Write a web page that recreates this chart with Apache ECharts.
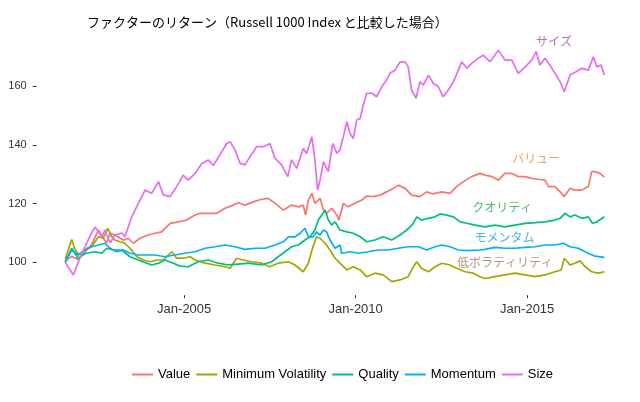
<!DOCTYPE html>
<html><head><meta charset="utf-8">
<script src="https://cdn.jsdelivr.net/npm/echarts@6/dist/echarts.min.js"></script>
<style>html,body{margin:0;padding:0;background:#fff}#c{width:640px;height:402px}</style>
</head><body><div id="c"></div>
<script>
const titleText = 'ファクターのリターン（Russell 1000 Index と比較した場合）';
const seriesNames = ['Value', 'Minimum Volatility', 'Quality', 'Momentum', 'Size'];
const xTickValues = [2005, 2010, 2015];
const yTickValues = [100, 120, 140, 160];

const valueData = [[2001.53,100.5],[2001.72,102],[2001.91,101],[2002.11,103.5],[2002.30,106],[2002.50,111],[2002.60,109],[2002.74,106.5],[2002.84,110],[2003.03,109],[2003.23,107.5],[2003.37,108.2],[2003.52,106.5],[2003.71,108.2],[2003.95,109.3],[2004.15,109.9],[2004.34,110.4],[2004.59,113.3],[2004.83,113.8],[2005.07,114.4],[2005.32,116.1],[2005.46,116.7],[2005.70,116.7],[2005.95,116.7],[2006.19,118.4],[2006.43,119.5],[2006.58,120.3],[2006.77,119.5],[2007.01,120.6],[2007.26,121.5],[2007.45,121.8],[2007.65,120.1],[2007.89,117.8],[2008.13,119.5],[2008.33,118.9],[2008.47,119.5],[2008.54,116.1],[2008.62,121.2],[2008.72,123.5],[2008.81,120.1],[2008.96,121.8],[2009.06,117.8],[2009.15,116.7],[2009.30,118.4],[2009.45,116.1],[2009.51,114.4],[2009.64,120.1],[2009.78,118.9],[2009.98,120.1],[2010.18,121.2],[2010.32,122.6],[2010.51,122.4],[2010.71,122.9],[2010.90,124],[2011.10,125.2],[2011.24,126.3],[2011.44,125.2],[2011.63,122.9],[2011.87,122.4],[2012.07,124],[2012.26,123.3],[2012.51,124],[2012.75,123.5],[2012.94,125.8],[2013.14,127.5],[2013.38,129.2],[2013.62,130.3],[2013.77,129.7],[2013.97,129.2],[2014.16,128],[2014.35,130.3],[2014.55,130.3],[2014.74,129.2],[2014.94,129.2],[2015.13,128.6],[2015.32,128.3],[2015.52,128],[2015.62,125.8],[2015.81,125.8],[2015.96,124],[2016.08,122.4],[2016.25,125.2],[2016.39,124.6],[2016.59,124.6],[2016.78,125.8],[2016.88,130.9],[2016.98,130.9],[2017.12,130.3],[2017.25,129]];

const minVolData = [[2001.53,101],[2001.72,107.8],[2001.82,104.2],[2001.96,102.5],[2002.16,104.8],[2002.30,105.3],[2002.50,108.7],[2002.64,108.2],[2002.77,111.6],[2002.89,108.7],[2002.98,107.6],[2003.13,107],[2003.27,106.5],[2003.42,104.8],[2003.62,101.9],[2003.81,100.8],[2004.00,100.2],[2004.20,100.8],[2004.39,100.8],[2004.64,103.6],[2004.78,101.4],[2004.97,101.4],[2005.17,101.9],[2005.32,100.8],[2005.61,99.7],[2005.90,99.1],[2006.19,98.5],[2006.34,98],[2006.53,101.4],[2006.72,100.8],[2006.97,100.2],[2007.26,99.7],[2007.50,98.5],[2007.74,99.7],[2008.04,100.2],[2008.23,99.1],[2008.47,96.8],[2008.62,99.7],[2008.74,104.8],[2008.86,108.7],[2008.96,108.2],[2009.11,106.5],[2009.25,104.2],[2009.40,101.4],[2009.54,99.7],[2009.74,97.4],[2009.93,98.5],[2010.13,97.4],[2010.32,95.1],[2010.56,96.3],[2010.80,95.7],[2011.05,93.4],[2011.29,94],[2011.53,95.1],[2011.68,98.5],[2011.78,100.2],[2011.92,98],[2012.12,96.8],[2012.31,98.5],[2012.51,99.7],[2012.75,99.1],[2012.94,98],[2013.19,96.8],[2013.43,96.3],[2013.62,95.1],[2013.77,94.5],[2014.06,95.1],[2014.35,95.7],[2014.64,96.3],[2014.94,95.7],[2015.23,95.1],[2015.52,95.7],[2015.81,96.8],[2015.99,97.4],[2016.08,101.4],[2016.25,99.1],[2016.39,99.7],[2016.54,100.5],[2016.69,98.5],[2016.88,96.8],[2017.07,96.3],[2017.25,96.8]];

const qualityData = [[2001.53,100],[2001.72,104.8],[2001.91,101.4],[2002.11,103],[2002.40,103.6],[2002.60,103.1],[2002.74,104.8],[2002.93,104.2],[2003.18,104.2],[2003.42,101.9],[2003.66,100.8],[2003.91,99.7],[2004.05,99.1],[2004.25,99.7],[2004.44,100.8],[2004.68,99.7],[2004.88,98.7],[2005.12,98.5],[2005.41,100.2],[2005.70,100.8],[2005.99,99.7],[2006.29,99.1],[2006.58,99.4],[2006.87,99.7],[2007.26,99.1],[2007.55,100.2],[2007.74,101.9],[2007.94,103.6],[2008.13,105.3],[2008.33,105.9],[2008.52,107.6],[2008.67,108.7],[2008.81,111],[2008.91,114.4],[2009.01,116.1],[2009.11,117.8],[2009.20,114.4],[2009.30,112.7],[2009.40,113.8],[2009.54,111],[2009.74,110.4],[2009.93,109.9],[2010.13,108.7],[2010.32,107],[2010.56,107.6],[2010.80,108.7],[2011.05,107.6],[2011.29,109.3],[2011.49,111],[2011.68,113.3],[2011.78,115.5],[2011.92,114.4],[2012.12,115],[2012.31,115.5],[2012.46,116.5],[2012.65,116.1],[2012.85,115.5],[2013.04,113.8],[2013.24,113.3],[2013.48,112.7],[2013.77,112.1],[2014.06,112.7],[2014.35,112.1],[2014.64,112.7],[2014.94,113.3],[2015.23,113.5],[2015.52,113.8],[2015.81,114.4],[2015.96,115],[2016.10,116.7],[2016.25,115.5],[2016.39,116.1],[2016.59,115],[2016.78,115.5],[2016.90,113.3],[2017.03,113.8],[2017.25,115.5]];

const momentumData = [[2001.53,100],[2001.72,104.2],[2001.91,102.5],[2002.11,104.2],[2002.30,105.3],[2002.50,105.9],[2002.69,106.5],[2002.84,104.8],[2003.03,103.6],[2003.23,104.2],[2003.42,103.1],[2003.66,102.5],[2003.91,102.5],[2004.15,102.5],[2004.44,101.9],[2004.73,102.5],[2005.02,103.1],[2005.32,103.6],[2005.61,104.8],[2005.90,105.3],[2006.19,105.9],[2006.48,105.3],[2006.77,104.4],[2007.06,104.8],[2007.36,104.8],[2007.65,105.9],[2007.89,107],[2008.04,108.7],[2008.23,108.7],[2008.38,109.9],[2008.52,111.6],[2008.62,108.7],[2008.76,108.7],[2008.86,110.4],[2008.96,109.3],[2009.06,111],[2009.15,110.4],[2009.25,107.6],[2009.40,104.8],[2009.54,105.9],[2009.59,103.1],[2009.83,103.6],[2010.08,103.1],[2010.37,103.6],[2010.66,104.2],[2010.95,104.2],[2011.24,104.8],[2011.53,105.3],[2011.83,105.3],[2012.07,104.2],[2012.31,105.3],[2012.51,105.9],[2012.75,105.3],[2012.99,104.2],[2013.28,104],[2013.62,104.2],[2013.77,104.4],[2014.06,105.1],[2014.35,104.8],[2014.64,104.8],[2014.94,105.1],[2015.23,105.3],[2015.52,105.9],[2015.81,105.9],[2016.05,106.5],[2016.25,105.3],[2016.49,104.8],[2016.78,103.1],[2016.98,102.1],[2017.25,101.7]];

const sizeData = [[2001.53,100],[2001.77,95.7],[2002.01,103],[2002.30,110],[2002.40,112],[2002.60,108.7],[2002.69,111],[2002.84,106.6],[2002.98,109.3],[2003.18,110],[2003.27,108.7],[2003.47,115.5],[2003.66,120],[2003.86,124.6],[2004.05,123.5],[2004.25,127.5],[2004.39,123],[2004.59,122.4],[2004.78,125.8],[2004.97,129.7],[2005.12,128],[2005.32,130.3],[2005.51,133.7],[2005.70,134.9],[2005.85,133],[2006.04,136.6],[2006.24,140.5],[2006.34,141.1],[2006.48,138.3],[2006.63,133.7],[2006.77,133.2],[2006.92,136],[2007.11,139.4],[2007.31,139.4],[2007.50,140.5],[2007.65,135.4],[2007.84,133.2],[2008.02,129.2],[2008.13,134.9],[2008.28,132],[2008.47,138.8],[2008.57,137.1],[2008.72,142.8],[2008.81,134.9],[2008.89,124.6],[2008.96,128],[2009.06,134.3],[2009.20,130.9],[2009.33,140.5],[2009.45,137.1],[2009.54,138.3],[2009.64,142.8],[2009.74,147.9],[2009.83,144],[2009.93,142.2],[2010.03,148.5],[2010.13,149],[2010.22,153.6],[2010.32,157.6],[2010.47,157.6],[2010.61,156.4],[2010.76,159.8],[2010.90,162.1],[2011.00,164.4],[2011.15,165.5],[2011.29,168.3],[2011.44,168.3],[2011.53,166.6],[2011.63,158.7],[2011.76,155.9],[2011.87,161.5],[2011.97,160.4],[2012.12,163.8],[2012.26,161],[2012.41,159.8],[2012.55,156.4],[2012.70,158.7],[2012.85,161.5],[2012.99,165.5],[2013.09,168.3],[2013.24,166.1],[2013.38,167.8],[2013.57,169.5],[2013.72,170.6],[2013.92,168.3],[2014.16,172.3],[2014.35,168.9],[2014.55,168.9],[2014.74,164.4],[2014.94,166.6],[2015.13,168.9],[2015.26,171.8],[2015.37,167.2],[2015.52,169.5],[2015.66,167.2],[2015.81,164.4],[2015.96,161.5],[2016.08,158.1],[2016.25,163.8],[2016.44,165],[2016.59,166.1],[2016.78,165.5],[2016.93,170],[2017.03,166.6],[2017.15,167.2],[2017.25,163.8]];

const annotationTexts = ['サイズ', 'バリュー', 'クオリティ', 'モメンタム', '低ボラティリティ'];
const annotationYears = [2015.78, 2015.26, 2014.27, 2014.34, 2014.35];
const annotationValues = [175.1, 135.5, 118.8, 108.4, 99.9];

const lineColors = ['#F8766D', '#A3A500', '#00BF7D', '#00B0F6', '#E76BF3'];
const annotationColors = ['#A24DA8', '#F5842E', '#22A543', '#1BA1E4', '#A97A5C'];
const allData = [valueData, minVolData, qualityData, momentumData, sizeData];

const chart = echarts.init(document.getElementById('c'), null, {renderer: 'canvas'});
const lineSeries = seriesNames.map((n, i) => ({
  name: n, type: 'line', data: allData[i], showSymbol: false, symbol: 'none',
  lineStyle: {width: 1.7, color: lineColors[i]}, itemStyle: {color: lineColors[i]},
  silent: true, z: 2 + i
}));
const annSeries = {
  type: 'scatter', symbolSize: 0, silent: true, z: 20,
  data: annotationTexts.map((t, i) => ({
    value: [annotationYears[i], annotationValues[i]], name: t,
    label: {show: true, position: 'inside', formatter: t, color: annotationColors[i],
      fontSize: 12, fontFamily: '"Noto Sans CJK JP", sans-serif'}
  }))
};
chart.setOption({
  animation: false,
  backgroundColor: '#fff',
  title: {text: titleText, left: 82, top: 11,
    textStyle: {fontSize: 13, fontWeight: 'normal', color: '#000', fontFamily: '"Noto Sans CJK JP", sans-serif'}},
  grid: {left: 36.7, right: 8.5, top: 37.5, bottom: 106.8, containLabel: false, outerBoundsMode: 'none'},
  legend: {data: seriesNames, left: 127, top: 363, icon: 'rect', itemWidth: 21, itemHeight: 2, itemGap: 6,
    textStyle: {fontSize: 13, color: '#000', fontFamily: '"Liberation Sans", Arial, sans-serif'}},
  xAxis: {type: 'value', min: 2000.7, max: 2018.04,
    axisLine: {show: false},
    axisTick: {show: true, customValues: xTickValues, length: 3, lineStyle: {color: '#333'}},
    axisLabel: {customValues: xTickValues, formatter: v => 'Jan-' + Math.round(v), margin: 8,
      fontSize: 13, color: '#333', fontFamily: '"Liberation Sans", Arial, sans-serif'},
    splitLine: {show: false}},
  yAxis: {type: 'value', min: 88.8, max: 176.6,
    axisLine: {show: false},
    axisTick: {show: true, customValues: yTickValues, length: 4, lineStyle: {color: '#333'}},
    axisLabel: {customValues: yTickValues, margin: 10, fontSize: 11, color: '#333',
      fontFamily: '"Liberation Sans", Arial, sans-serif'},
    splitLine: {show: false}},
  series: lineSeries.concat([annSeries])
});
</script></body></html>
